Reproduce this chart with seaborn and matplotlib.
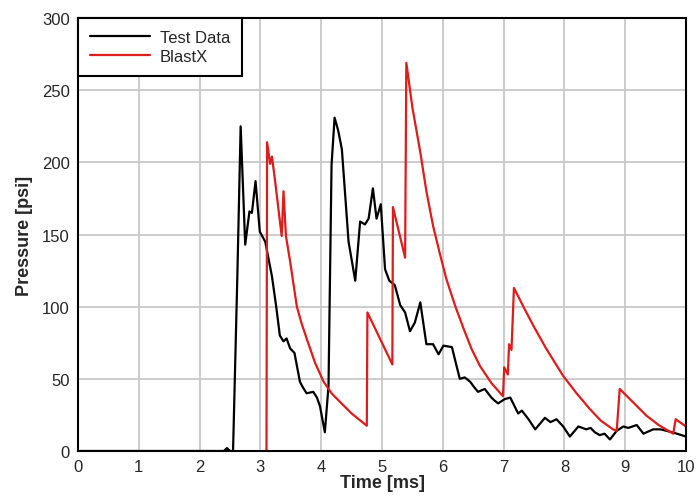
import pandas as pd
import seaborn as sns
import matplotlib.pyplot as plt

# Test data (time in ms, pressure in psi)
test_t = [0.0, 2.40, 2.45, 2.50, 2.55, 2.62, 2.675, 2.75, 2.82, 2.86, 2.92, 2.99, 3.08,
          3.19, 3.26, 3.32, 3.38, 3.43, 3.49, 3.56, 3.65, 3.70, 3.76, 3.87, 3.93, 3.98,
          4.06, 4.12, 4.17, 4.22, 4.28, 4.34, 4.45, 4.56, 4.64, 4.72, 4.78, 4.85, 4.91,
          4.98, 5.05, 5.12, 5.21, 5.30, 5.38, 5.46, 5.54, 5.63, 5.73, 5.84, 5.93, 6.01,
          6.15, 6.22, 6.28, 6.36, 6.45, 6.52, 6.58, 6.69, 6.80, 6.85, 6.91, 7.02, 7.11,
          7.24, 7.30, 7.41, 7.52, 7.60, 7.68, 7.77, 7.87, 7.98, 8.09, 8.23, 8.36, 8.43,
          8.50, 8.58, 8.66, 8.75, 8.86, 8.97, 9.05, 9.19, 9.30, 9.46, 9.58, 9.68, 9.85, 10.0]
test_p = [0, 0, 2, 0, 0, 120, 225, 143, 166, 165, 187, 152, 145,
          121, 100, 80, 76, 78, 71, 68, 48, 44, 40, 41, 37, 31,
          13, 45, 198, 231, 222, 209, 145, 118, 159, 157, 161, 182, 161,
          171, 126, 118, 115, 101, 96, 83, 89, 103, 74, 74, 67, 73,
          72, 60, 50, 51, 48, 44, 41, 43, 37, 35, 33, 36, 37,
          26, 28, 22, 15, 19, 23, 20, 22, 17, 10, 17, 15, 16,
          13, 11, 12, 8, 14, 17, 16, 18, 12, 15, 15, 14, 12, 10]

# BlastX prediction
blastx_t = [3.10, 3.11, 3.16, 3.19, 3.23, 3.35, 3.38, 3.42, 3.49, 3.55, 3.60, 3.68,
            3.76, 3.90, 4.04, 4.17, 4.31, 4.50, 4.75, 4.76, 5.17, 5.18, 5.38, 5.40,
            5.50, 5.63, 5.73, 5.84, 5.95, 6.06, 6.20, 6.34, 6.47, 6.61, 6.80, 6.99,
            7.01, 7.07, 7.09, 7.13, 7.17, 7.35, 7.50, 7.70, 7.98, 8.20, 8.42, 8.60,
            8.80, 8.86, 8.91, 9.10, 9.35, 9.55, 9.79, 9.83, 10.0]
blastx_p = [0, 214, 199, 204, 191, 149, 180, 149, 131, 114, 100, 88,
            78, 61, 48, 40, 34, 26, 17.5, 96, 60, 169, 134, 269,
            238, 207, 180, 156, 137, 119, 101, 85, 71, 59, 47, 38,
            58, 53, 74, 70, 113, 98, 86, 71, 52, 40, 29, 21,
            15, 14, 43, 35, 24.5, 18, 12, 22, 17]

df = pd.concat([
    pd.DataFrame({'Time': test_t, 'Pressure': test_p, 'Series': 'Test Data'}),
    pd.DataFrame({'Time': blastx_t, 'Pressure': blastx_p, 'Series': 'BlastX'}),
])

sns.set_style('white')
plt.rcParams['font.family'] = ['Liberation Sans', 'DejaVu Sans']

fig = plt.figure(figsize=(6.99, 5.02), dpi=100)
ax = fig.add_axes([0.1116, 0.0996, 0.8698, 0.8624])

sns.lineplot(data=df, x='Time', y='Pressure', hue='Series',
             palette={'Test Data': 'black', 'BlastX': '#dd1c1c'},
             estimator=None, sort=False, linewidth=1.6, ax=ax)

ax.set_xlim(0, 10)
ax.set_ylim(0, 300)
ax.set_xticks(range(0, 11))
ax.set_yticks(range(0, 301, 50))
ax.grid(True, color='#c8c8c8', linewidth=1.3)
ax.set_axisbelow(True)
for s in ax.spines.values():
    s.set_color('black')
    s.set_linewidth(1.5)
ax.tick_params(axis='both', labelsize=12, length=0, pad=6)
ax.set_xlabel('Time [ms]', fontsize=13, fontweight='bold', labelpad=0)
ax.set_ylabel('Pressure [psi]', fontsize=13, fontweight='bold', labelpad=6)

leg = ax.legend(loc='upper left', fontsize=12, frameon=True, fancybox=False,
                framealpha=1, edgecolor='black', borderaxespad=0,
                handlelength=3.6, handletextpad=0.6, borderpad=0.7,
                labelspacing=0.25, title=None)
leg.get_frame().set_linewidth(1.5)

fig.savefig('out.png', dpi=100)
